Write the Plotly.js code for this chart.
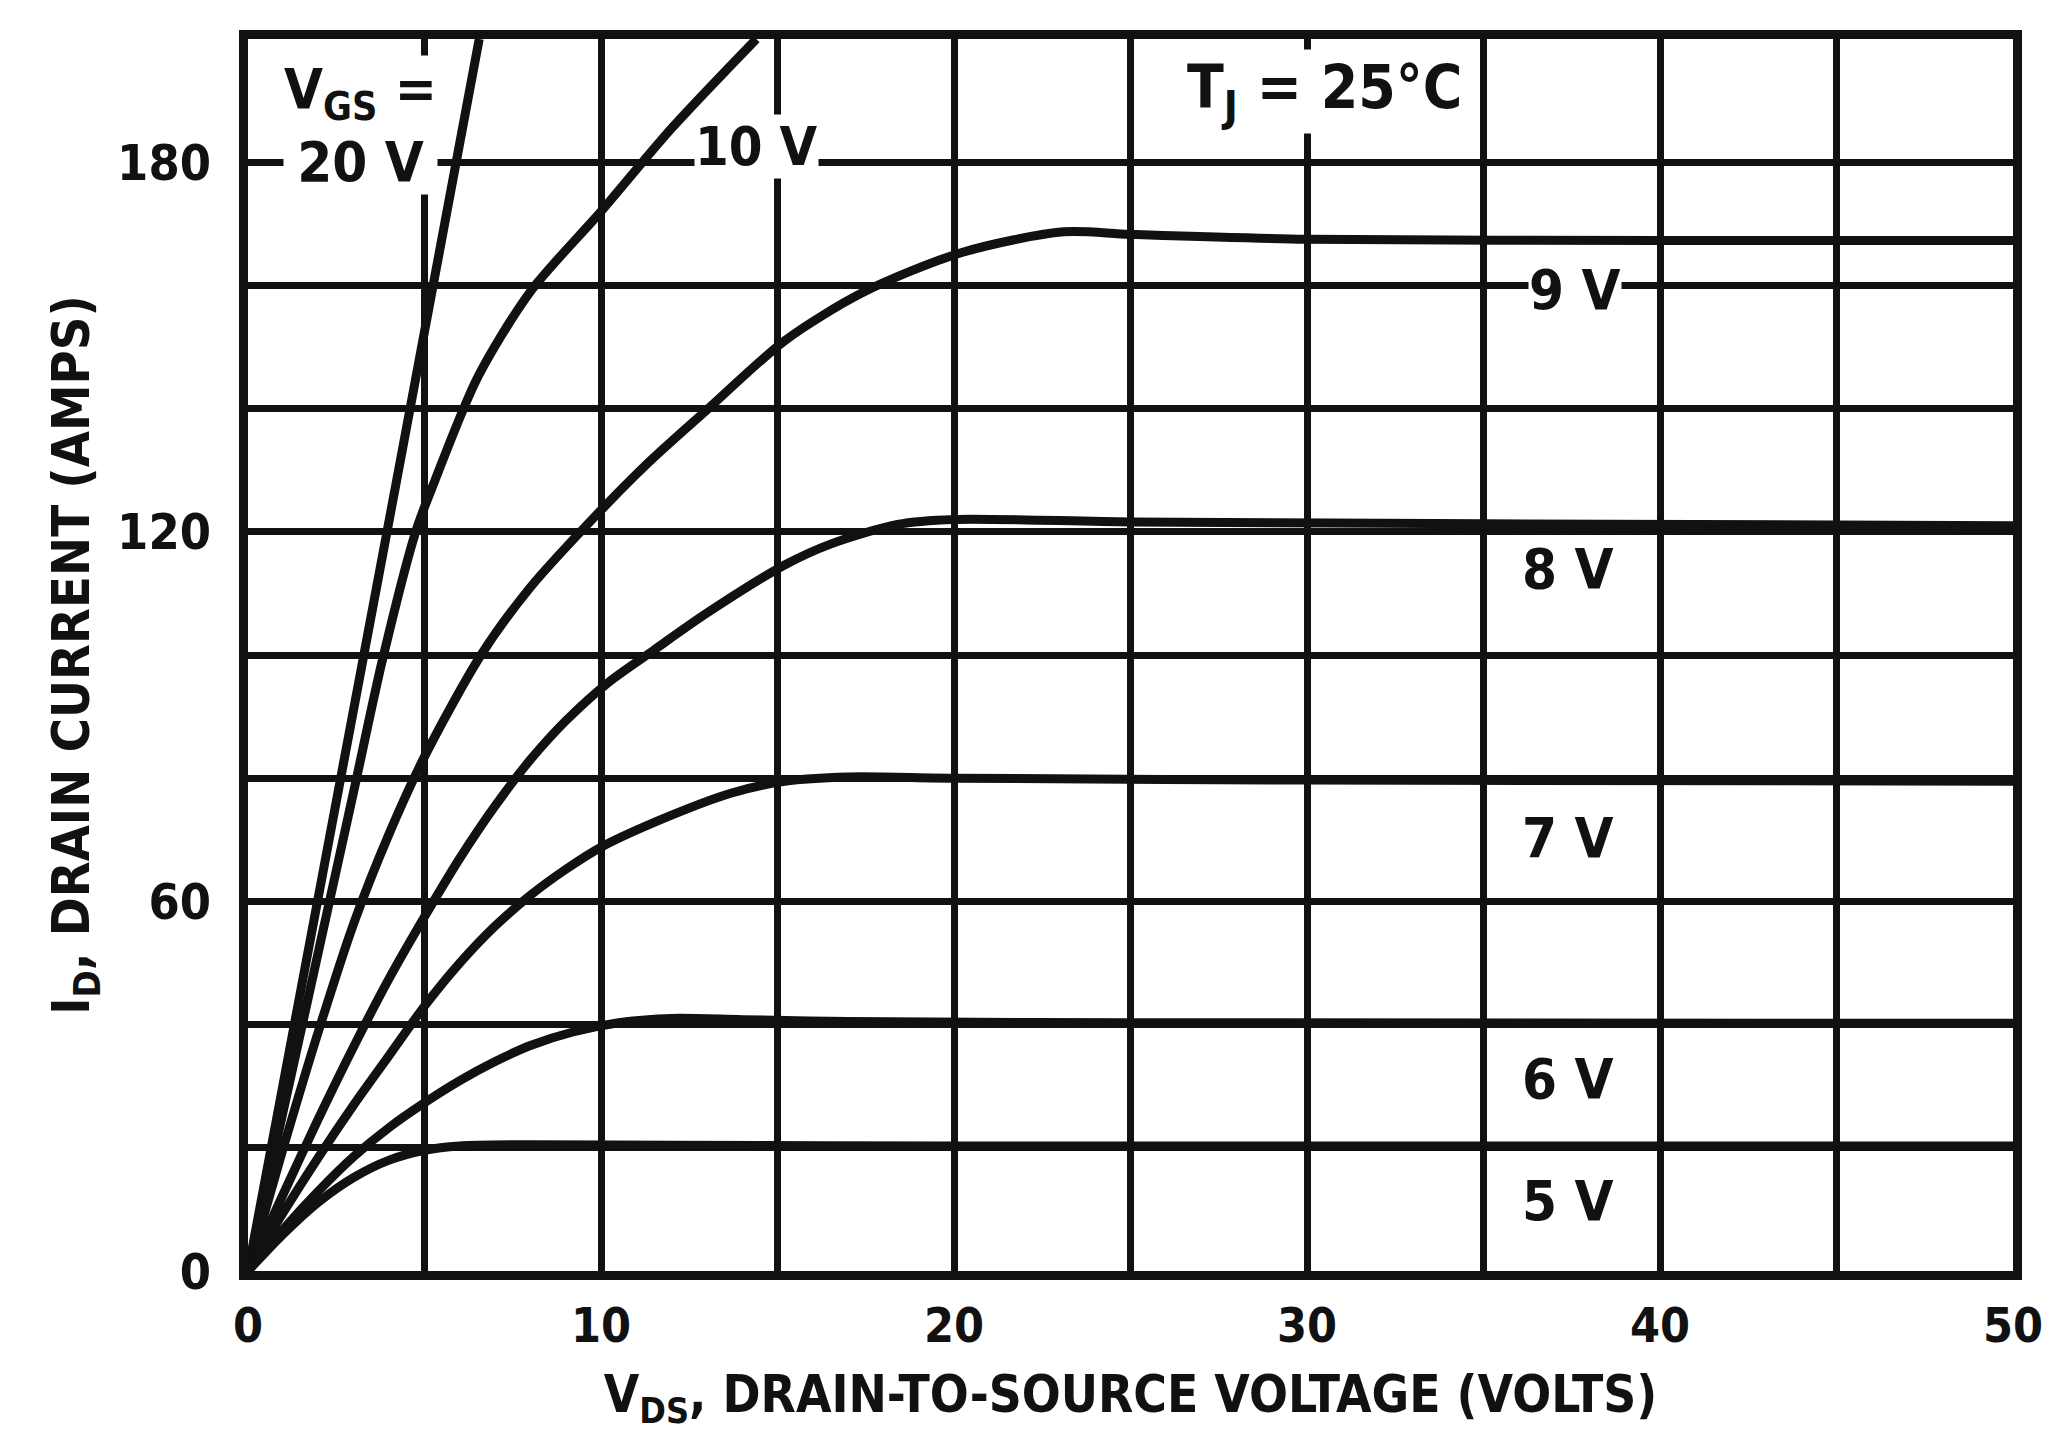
<!DOCTYPE html>
<html>
<head>
<meta charset="utf-8">
<script src="https://cdn.plot.ly/plotly-3.0.1.min.js"></script>
<style>html,body{margin:0;padding:0;background:#fff;}#chart{width:2051px;height:1454px;}</style>
</head>
<body>
<div id="chart"></div>
<script>
// ---- Data ----
const vgs20_x = [0, 2.1, 4.2, 6.55];
const vgs20_y = [0, 64, 128, 200];

const vgs10_x = [0, 1, 2, 3, 3.8, 4.75, 5.3, 6.5, 8, 10, 12, 14.4];
const vgs10_y = [0, 26, 52, 78, 99, 120, 128.4, 145, 159, 172, 185.5, 200];

const vgs9_x = [0, 1, 2, 3, 4, 5, 6.6, 8, 9.5, 11.3, 13, 15.2, 17.4, 20.2, 23.1, 25, 30, 40, 50];
const vgs9_y = [0, 20, 39, 56.5, 71, 83.5, 100, 111, 120.5, 131, 139.8, 151, 158.8, 165.3, 168.7, 168.3, 167.5, 167.3, 167.3];

const vgs8_x = [0, 1, 2, 3, 4, 5, 6, 7, 8, 9, 10.2, 11.5, 13, 15.2, 16.5, 18.4, 20, 25, 35, 50];
const vgs8_y = [0, 12.5, 24.8, 36.5, 47.5, 57.5, 67, 75.5, 83, 89.3, 95.5, 100.8, 106.8, 114.6, 118, 121.2, 122, 121.6, 121.3, 121];

const vgs7_x = [0, 1, 2, 3, 4, 5, 6, 7, 8, 9, 10, 12, 13.7, 15.2, 17, 20, 30, 50];
const vgs7_y = [0, 9.5, 18.5, 27, 35, 43, 50, 56, 61, 65.2, 68.8, 74, 77.6, 79.5, 80.2, 80, 79.7, 79.5];

const vgs6_x = [0, 1, 2, 3, 4, 5, 6, 7, 8, 9.2, 10.5, 12, 14, 17, 25, 50];
const vgs6_y = [0, 6.8, 13, 18.6, 23.3, 27.3, 30.9, 34, 36.6, 38.8, 40.3, 41, 40.8, 40.5, 40.3, 40.2];

const vgs5_x = [0, 1, 2, 3, 4, 5, 6, 8, 12, 20, 30, 50];
const vgs5_y = [0, 6, 11.2, 15.2, 18, 19.6, 20.3, 20.5, 20.4, 20.3, 20.3, 20.3];

const xTickVals = [0, 5, 10, 15, 20, 25, 30, 35, 40, 45, 50];
const xTickText = ['0', '', '10', '', '20', '', '30', '', '40', '', '50'];
const yTickVals = [0, 20, 40, 60, 80, 100, 120, 140, 160, 180, 200];
const yTickText = ['0', '', '', '60', '', '', '120', '', '', '180', ''];

const curveLabels = ['10 V', '9 V', '8 V', '7 V', '6 V', '5 V'];
const curveLabelX = [14.4, 37.6, 37.4, 37.4, 37.4, 37.4];
const curveLabelY = [182.6, 159.3, 114.1, 70.3, 31.3, 11.4];

// ---- Styling ----
const FONT = '"Liberation Sans Narrow", "DejaVu Sans Condensed", "Arial Narrow", sans-serif';
const INK = '#111111';

const series = [
  [vgs20_x, vgs20_y], [vgs10_x, vgs10_y], [vgs9_x, vgs9_y], [vgs8_x, vgs8_y],
  [vgs7_x, vgs7_y], [vgs6_x, vgs6_y], [vgs5_x, vgs5_y]
];
const names = ['20 V', '10 V', '9 V', '8 V', '7 V', '6 V', '5 V'];

const traces = series.map((s, i) => ({
  x: s[0], y: s[1], name: names[i], type: 'scatter', mode: 'lines',
  line: {color: INK, width: 9, shape: 'spline', smoothing: 0.8},
  hoverinfo: 'skip'
}));

const annotations = curveLabels.map((t, i) => ({
  x: curveLabelX[i], y: curveLabelY[i], xref: 'x', yref: 'y',
  text: '<b>' + t + '</b>', showarrow: false,
  font: {family: FONT, size: (i === 0 ? 54 : 56), color: INK},
  bgcolor: (i < 2) ? '#ffffff' : 'rgba(0,0,0,0)', borderpad: 0
}));
annotations.push({
  x: 3.2, y: 186, xref: 'x', yref: 'y',
  text: '<b>V<sub>GS</sub> =<br>20 V</b>', showarrow: false, align: 'center',
  font: {family: FONT, size: 56, color: INK},
  bgcolor: '#ffffff', borderpad: 0
});
annotations.push({
  x: 30.5, y: 191.5, xref: 'x', yref: 'y',
  text: '<b>T<sub>J</sub> = 25°C</b>', showarrow: false,
  font: {family: FONT, size: 60, color: INK},
  bgcolor: '#ffffff', borderpad: 2
});

const layout = {
  width: 2051, height: 1454,
  margin: {l: 248, r: 38, t: 39, b: 183},
  paper_bgcolor: '#ffffff', plot_bgcolor: '#ffffff',
  showlegend: false,
  font: {family: FONT, color: INK},
  xaxis: {
    range: [0, 50], tickvals: xTickVals, ticktext: xTickText,
    showgrid: true, gridcolor: INK, gridwidth: 7,
    showline: true, linecolor: INK, linewidth: 9, mirror: true,
    zeroline: false, ticks: '', ticklabelstandoff: 4, ticklabeloverflow: 'allow',
    tickfont: {family: FONT, size: 48, color: INK, weight: 'bold'},
    title: {text: '<b>V<sub>DS</sub>, DRAIN-TO-SOURCE VOLTAGE (VOLTS)</b>',
            font: {family: FONT, size: 51, color: INK}, standoff: 28}
  },
  yaxis: {
    range: [0, 200], tickvals: yTickVals, ticktext: yTickText,
    showgrid: true, gridcolor: INK, gridwidth: 7,
    showline: true, linecolor: INK, linewidth: 9, mirror: true,
    zeroline: false, ticks: '', ticklabelstandoff: 18, ticklabeloverflow: 'allow',
    tickfont: {family: FONT, size: 50, color: INK, weight: 'bold'},
    title: {text: '<b>I<sub>D</sub>, DRAIN CURRENT (AMPS)</b>',
            font: {family: FONT, size: 52, color: INK}, standoff: 14}
  },
  annotations: annotations
};

Plotly.newPlot('chart', traces, layout, {staticPlot: true, displayModeBar: false});
</script>
</body>
</html>
